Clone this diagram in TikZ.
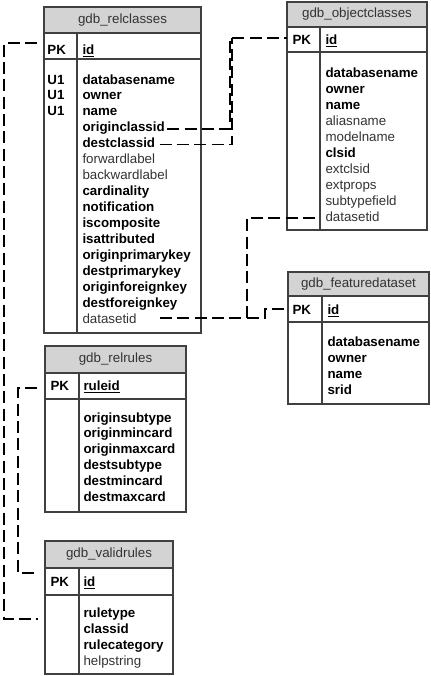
\documentclass[tikz,border=0pt]{standalone}
\usepackage{fontspec}
\setmainfont{Liberation Sans}
\usepackage{tikz}
\definecolor{titlegray}{RGB}{211,211,211}
\definecolor{framegray}{RGB}{64,64,64}
\definecolor{textgray}{RGB}{51,51,51}
\tikzset{every picture/.style={line width=0.75pt}}
\tikzset{
  tbl/.style={draw=framegray,line width=0.8pt},
  ttl/.style={draw=framegray,line width=0.8pt,fill=titlegray},
  sep/.style={draw=framegray,line width=0.8pt},
  head/.style={inner sep=0pt,text=textgray,font=\fontsize{10}{12}\selectfont},
  key/.style={anchor=base west,inner sep=0pt,font=\fontsize{10}{12}\selectfont\bfseries},
  fld/.style={anchor=base west,inner sep=0pt,font=\fontsize{10}{12}\selectfont\bfseries},
  fldn/.style={anchor=base west,inner sep=0pt,text=textgray,font=\fontsize{10}{12}\selectfont},
  lnk/.style={draw=black,line width=1.1pt,dash pattern={on 9pt off 4pt}}
}

\begin{document}
\begin{tikzpicture}[x=0.75pt,y=0.75pt,yscale=-1,xscale=1]
		\useasboundingbox (0,0) rectangle (431,676);
		
		% Table gdb_relclasses
		\draw [ttl] (44,7) rectangle (201,33);
		\draw [tbl] (44,7) rectangle (201,333);
		\draw [sep] (44,59) -- (201,59);
		\draw [sep] (77,33) -- (77,333);
		\node [head] (rc-title) at (122.5,20) {gdb\_relclasses};
		\node [key] (rc-pk) at (47,54) {PK};
		\node [fld] (rc-id) at (82,54) {\underline{id}};
		\node [key] (rc-u1a) at (47,84) {U1};
		\node [key] (rc-u1b) at (47,99.9) {U1};
		\node [key] (rc-u1c) at (47,115.9) {U1};
		\node [fld] (rc-databasename) at (82,84) {databasename};
		\node [fld] (rc-owner) at (82,99.9) {owner};
		\node [fld] (rc-name) at (82,115.9) {name};
		\node [fld] (rc-originclassid) at (82,131.8) {originclassid};
		\node [fld] (rc-destclassid) at (82,147.7) {destclassid};
		\node [fldn] (rc-forwardlabel) at (82,163.7) {forwardlabel};
		\node [fldn] (rc-backwardlabel) at (82,179.6) {backwardlabel};
		\node [fld] (rc-cardinality) at (82,195.5) {cardinality};
		\node [fld] (rc-notification) at (82,211.4) {notification};
		\node [fld] (rc-iscomposite) at (82,227.4) {iscomposite};
		\node [fld] (rc-isattributed) at (82,243.3) {isattributed};
		\node [fld] (rc-originprimarykey) at (82,259.2) {originprimarykey};
		\node [fld] (rc-destprimarykey) at (82,275.2) {destprimarykey};
		\node [fld] (rc-originforeignkey) at (82,291.1) {originforeignkey};
		\node [fld] (rc-destforeignkey) at (82,307) {destforeignkey};
		\node [fldn] (rc-datasetid) at (82,323) {datasetid};
		\coordinate (rc-in) at (37,43);
		
		% Table gdb_objectclasses
		\draw [ttl] (287,2) rectangle (427,27);
		\draw [tbl] (287,2) rectangle (427,230);
		\draw [sep] (287,52) -- (427,52);
		\draw [sep] (320,27) -- (320,230);
		\node [head] (oc-title) at (357,14.5) {gdb\_objectclasses};
		\node [key] (oc-pk) at (292,44.5) {PK};
		\node [fld] (oc-id) at (325,44.5) {\underline{id}};
		\node [fld] (oc-databasename) at (325,77) {databasename};
		\node [fld] (oc-owner) at (325,93) {owner};
		\node [fld] (oc-name) at (325,109) {name};
		\node [fldn] (oc-aliasname) at (325,125) {aliasname};
		\node [fldn] (oc-modelname) at (325,141) {modelname};
		\node [fld] (oc-clsid) at (325,157) {clsid};
		\node [fldn] (oc-extclsid) at (325,173) {extclsid};
		\node [fldn] (oc-extprops) at (325,189) {extprops};
		\node [fldn] (oc-subtypefield) at (325,205) {subtypefield};
		\node [fldn] (oc-datasetid) at (325,221) {datasetid};
		\coordinate (oc-in) at (287,38);
		
		% Table gdb_featuredataset
		\draw [ttl] (288,272) rectangle (429,296);
		\draw [tbl] (288,272) rectangle (429,404);
		\draw [sep] (288,322) -- (429,322);
		\draw [sep] (322,296) -- (322,404);
		\node [head] (fd-title) at (358.5,284) {gdb\_featuredataset};
		\node [key] (fd-pk) at (292,314.5) {PK};
		\node [fld] (fd-id) at (327,314.5) {\underline{id}};
		\node [fld] (fd-databasename) at (327,346) {databasename};
		\node [fld] (fd-owner) at (327,362) {owner};
		\node [fld] (fd-name) at (327,378) {name};
		\node [fld] (fd-srid) at (327,394) {srid};
		\coordinate (fd-in) at (288,309);
		
		% Table gdb_relrules
		\draw [ttl] (45,346) rectangle (186,373);
		\draw [tbl] (45,346) rectangle (186,512);
		\draw [sep] (45,399) -- (186,399);
		\draw [sep] (79,373) -- (79,512);
		\node [head] (rr-title) at (115.5,359.5) {gdb\_relrules};
		\node [key] (rr-pk) at (50,390) {PK};
		\node [fld] (rr-ruleid) at (83,390) {\underline{ruleid}};
		\node [fld] (rr-originsubtype) at (83,422) {originsubtype};
		\node [fld] (rr-originmincard) at (83,437.9) {originmincard};
		\node [fld] (rr-originmaxcard) at (83,453.8) {originmaxcard};
		\node [fld] (rr-destsubtype) at (83,469.7) {destsubtype};
		\node [fld] (rr-destmincard) at (83,485.6) {destmincard};
		\node [fld] (rr-destmaxcard) at (83,501.5) {destmaxcard};
		\coordinate (rr-in) at (37,388);
		
		% Table gdb_validrules
		\draw [ttl] (45,541) rectangle (173,568);
		\draw [tbl] (45,541) rectangle (173,674);
		\draw [sep] (45,595) -- (173,595);
		\draw [sep] (79,568) -- (79,674);
		\node [head] (vr-title) at (109,554.5) {gdb\_validrules};
		\node [key] (vr-pk) at (50,586) {PK};
		\node [fld] (vr-id) at (83,586) {\underline{id}};
		\node [fld] (vr-ruletype) at (83,617) {ruletype};
		\node [fld] (vr-classid) at (83,633) {classid};
		\node [fld] (vr-rulecategory) at (83,649) {rulecategory};
		\node [fldn] (vr-helpstring) at (83,665) {helpstring};
		\coordinate (vr-pkin) at (37,573);
		\coordinate (vr-in) at (38,619);
		
		% Relationships
		\coordinate (oc-join) at (232,38);
		\draw [lnk] (rc-in) -- (4,43) |- (vr-in);
		\draw [lnk] (rr-in) -- (18,388) |- (vr-pkin);
		\draw [lnk] ([shift={(2,-3)}]rc-originclassid.base east) -| (230,40) |- (oc-in);
		\draw [lnk] ([shift={(4,-3)}]rc-destclassid.base east) -| (oc-join);
		\draw [lnk] ([shift={(23,-5)}]rc-datasetid.base east) -- (265,318) |- (fd-in);
		\draw [lnk] ([shift={(-10,-3)}]oc-datasetid.base west) -- (247,218) -- (247,318);
		
\end{tikzpicture}
\end{document}
